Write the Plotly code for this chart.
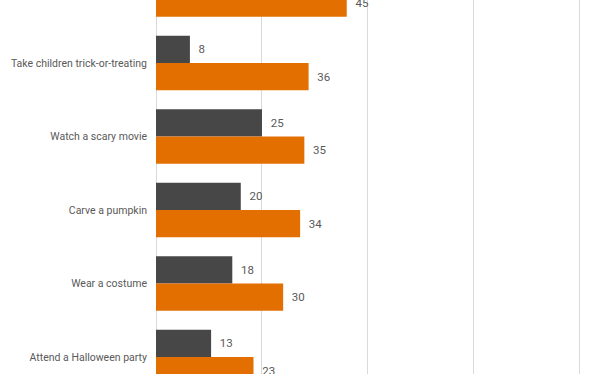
import plotly.graph_objects as go

# Categories listed top to bottom (top one is cropped out of view in the reference)
categories = [
    "Hand out candy",
    "Take children trick-or-treating",
    "Watch a scary movie",
    "Carve a pumpkin",
    "Wear a costume",
    "Attend a Halloween party",
]
dark_values = [30, 8, 25, 20, 18, 13]
orange_values = [45, 36, 35, 34, 30, 23]

DARK = "#474747"
ORANGE = "#E36F00"
TEXT = "#595959"
GRID = "#D9D9D9"
FONT = "Roboto"

fig = go.Figure()
fig.add_trace(go.Bar(
    y=categories, x=dark_values, orientation="h", name="Group 1",
    marker=dict(color=DARK, line=dict(width=0)),
    texttemplate="\u00a0\u00a0%{x}", textposition="outside",
    textfont=dict(family=FONT, size=11.5, color=TEXT),
))
fig.add_trace(go.Bar(
    y=categories, x=orange_values, orientation="h", name="Group 2",
    marker=dict(color=ORANGE, line=dict(width=0)),
    texttemplate="\u00a0\u00a0%{x}", textposition="outside",
    textfont=dict(family=FONT, size=11.5, color=TEXT),
))

fig.update_layout(
    width=612, height=374,
    margin=dict(l=156, r=30, t=0, b=0, pad=0),
    paper_bgcolor="white", plot_bgcolor="white",
    barmode="group", bargap=0.26, bargroupgap=0,
    showlegend=False,
    font=dict(family=FONT, size=11, color=TEXT),
    xaxis=dict(
        range=[0, 100.5], tickmode="linear", tick0=0, dtick=25,
        showgrid=True, gridcolor=GRID, gridwidth=1,
        zeroline=True, zerolinecolor=GRID, zerolinewidth=1,
        showticklabels=False, showline=False, fixedrange=True, automargin=False,
    ),
    yaxis=dict(
        categoryorder="array", categoryarray=categories,
        range=[5.231, 0.143], showgrid=False, zeroline=False, showline=False,
        ticks="", ticklabelstandoff=8, automargin=False, fixedrange=True,
        tickfont=dict(family=FONT, size=10.5, color=TEXT),
    ),
)

fig.write_html(
    "out.html",
    config={"displayModeBar": False},
    post_script="document.body.style.margin='0';document.body.style.overflow='hidden';",
)
